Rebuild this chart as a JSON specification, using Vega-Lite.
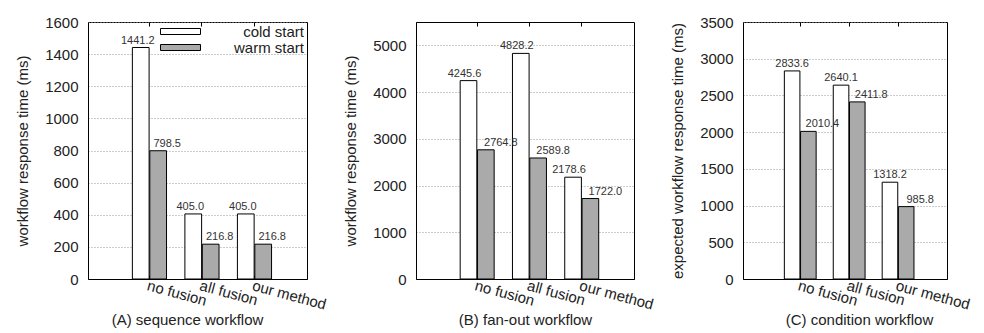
{
  "$schema": "https://vega.github.io/schema/vega-lite/v6.json",
  "padding": {"left": 15, "top": 14, "right": 0, "bottom": 0},
  "bounds": "flush",
  "spacing": 109,
  "config": {
    "font": "Liberation Sans",
    "view": {"stroke": "#000", "strokeWidth": 1},
    "axis": {
      "labelFont": "Liberation Sans", "labelFontSize": 15, "labelColor": "#222",
      "titleFont": "Liberation Sans", "titleFontSize": 15, "titleFontWeight": "normal", "titleColor": "#222",
      "domainColor": "#000", "tickColor": "#000"
    },
    "axisX": {"labelAngle": 15, "labelAlign": "left", "labelBaseline": "top", "labelPadding": 3, "ticks": true, "tickSize": -4, "titleY": 33, "titleBaseline": "top"},
    "axisY": {"grid": true, "gridDash": [1, 2], "gridColor": "#999", "ticks": false, "labelPadding": 10, "titlePadding": 14, "format": "d"}
  },
  "datasets": {
    "d": [
      {"panel": "A", "method": "no fusion", "type": "cold start", "value": 1441.2},
      {"panel": "A", "method": "no fusion", "type": "warm start", "value": 798.5},
      {"panel": "A", "method": "all fusion", "type": "cold start", "value": 405.0},
      {"panel": "A", "method": "all fusion", "type": "warm start", "value": 216.8},
      {"panel": "A", "method": "our method", "type": "cold start", "value": 405.0},
      {"panel": "A", "method": "our method", "type": "warm start", "value": 216.8},
      {"panel": "B", "method": "no fusion", "type": "cold start", "value": 4245.6},
      {"panel": "B", "method": "no fusion", "type": "warm start", "value": 2764.8},
      {"panel": "B", "method": "all fusion", "type": "cold start", "value": 4828.2},
      {"panel": "B", "method": "all fusion", "type": "warm start", "value": 2589.8},
      {"panel": "B", "method": "our method", "type": "cold start", "value": 2178.6},
      {"panel": "B", "method": "our method", "type": "warm start", "value": 1722.0},
      {"panel": "C", "method": "no fusion", "type": "cold start", "value": 2833.6},
      {"panel": "C", "method": "no fusion", "type": "warm start", "value": 2010.4},
      {"panel": "C", "method": "all fusion", "type": "cold start", "value": 2640.1},
      {"panel": "C", "method": "all fusion", "type": "warm start", "value": 2411.8},
      {"panel": "C", "method": "our method", "type": "cold start", "value": 1318.2},
      {"panel": "C", "method": "our method", "type": "warm start", "value": 985.8}
    ]
  },
  "hconcat": [
    {
      "width": 219, "height": 257,
      "data": {"name": "d"},
      "transform": [{"filter": "datum.panel == 'A'"}],
      "encoding": {
        "xOffset": {"field": "type", "type": "nominal", "scale": {"domain": ["cold start", "warm start"], "paddingInner": 0.04, "paddingOuter": 0}},
        "y": {"field": "value", "type": "quantitative", "scale": {"domain": [0, 1600], "nice": false}, "axis": {"title": "workflow response time (ms)", "values": [0, 200, 400, 600, 800, 1000, 1200, 1400, 1600]}}
      },
      "layer": [
        {
          "mark": {"type": "bar", "stroke": "#000", "strokeWidth": 1},
          "encoding": {
            "x": {"field": "method", "type": "nominal", "scale": {"domain": ["no fusion", "all fusion", "our method"], "paddingInner": 0.35, "paddingOuter": 0.76, "align": 0.556}, "axis": {"title": "(A) sequence workflow", "titleX": 99}},
            "fill": {"field": "type", "type": "nominal", "scale": {"domain": ["cold start", "warm start"], "range": ["#ffffff", "#aaaaaa"]},
              "legend": {"orient": "none", "legendX": 85, "legendY": 2, "title": null, "padding": 0, "rowPadding": 0,
                "symbolType": "M-6.67,-1L6.67,-1L6.67,1L-6.67,1Z", "symbolSize": 36, "symbolStrokeColor": "#000", "symbolStrokeWidth": 1, "symbolOpacity": 1,
                "labelFont": "Liberation Sans", "labelFontSize": 15, "labelColor": "#222", "labelAlign": "right", "labelOffset": 116}}
          }
        },
        {
          "transform": [{"filter": "datum.type == 'cold start'"}],
          "mark": {"type": "text", "baseline": "alphabetic", "dy": -4, "dx": -3, "fontSize": 11, "color": "#333"},
          "encoding": {
            "x": {"field": "method", "type": "nominal", "axis": {"orient": "top", "labels": false, "title": null, "domain": false, "ticks": true, "tickSize": -4}},
            "text": {"field": "value", "type": "quantitative", "format": ".1f"}
          }
        },
        {
          "transform": [{"filter": "datum.type == 'warm start'"}],
          "mark": {"type": "text", "baseline": "alphabetic", "dy": -4, "dx": 9, "fontSize": 11, "color": "#333"},
          "encoding": {
            "x": {"field": "method", "type": "nominal", "axis": null},
            "text": {"field": "value", "type": "quantitative", "format": ".1f"}
          }
        }
      ],
      "resolve": {"axis": {"x": "independent"}}
    },
    {
      "width": 218, "height": 257,
      "data": {"name": "d"},
      "transform": [{"filter": "datum.panel == 'B'"}],
      "encoding": {
        "xOffset": {"field": "type", "type": "nominal", "scale": {"domain": ["cold start", "warm start"], "paddingInner": 0.04, "paddingOuter": 0}},
        "y": {"field": "value", "type": "quantitative", "scale": {"domain": [0, 5500], "nice": false}, "axis": {"title": "workflow response time (ms)", "values": [0, 1000, 2000, 3000, 4000, 5000]}}
      },
      "layer": [
        {
          "mark": {"type": "bar", "stroke": "#000", "strokeWidth": 1},
          "encoding": {
            "x": {"field": "method", "type": "nominal", "scale": {"domain": ["no fusion", "all fusion", "our method"], "paddingInner": 0.35, "paddingOuter": 0.76, "align": 0.556}, "axis": {"title": "(B) fan-out workflow", "titleX": 109}},
            "fill": {"field": "type", "type": "nominal", "scale": {"domain": ["cold start", "warm start"], "range": ["#ffffff", "#aaaaaa"]}, "legend": null}
          }
        },
        {
          "transform": [{"filter": "datum.type == 'cold start'"}],
          "mark": {"type": "text", "baseline": "alphabetic", "dy": -4, "dx": -4, "fontSize": 11, "color": "#333"},
          "encoding": {
            "x": {"field": "method", "type": "nominal", "axis": {"orient": "top", "labels": false, "title": null, "domain": false, "ticks": true, "tickSize": -4}},
            "text": {"field": "value", "type": "quantitative", "format": ".1f"}
          }
        },
        {
          "transform": [{"filter": "datum.type == 'warm start'"}],
          "mark": {"type": "text", "baseline": "alphabetic", "dy": -4, "dx": 15, "fontSize": 11, "color": "#333"},
          "encoding": {
            "x": {"field": "method", "type": "nominal", "axis": null},
            "text": {"field": "value", "type": "quantitative", "format": ".1f"}
          }
        }
      ],
      "resolve": {"axis": {"x": "independent"}}
    },
    {
      "width": 204, "height": 257,
      "data": {"name": "d"},
      "transform": [{"filter": "datum.panel == 'C'"}],
      "encoding": {
        "xOffset": {"field": "type", "type": "nominal", "scale": {"domain": ["cold start", "warm start"], "paddingInner": 0.04, "paddingOuter": 0}},
        "y": {"field": "value", "type": "quantitative", "scale": {"domain": [0, 3500], "nice": false}, "axis": {"title": "expected workflow response time (ms)", "values": [0, 500, 1000, 1500, 2000, 2500, 3000, 3500]}}
      },
      "layer": [
        {
          "mark": {"type": "bar", "stroke": "#000", "strokeWidth": 1},
          "encoding": {
            "x": {"field": "method", "type": "nominal", "scale": {"domain": ["no fusion", "all fusion", "our method"], "paddingInner": 0.35, "paddingOuter": 0.76, "align": 0.556}, "axis": {"title": "(C) condition workflow", "titleX": 116}},
            "fill": {"field": "type", "type": "nominal", "scale": {"domain": ["cold start", "warm start"], "range": ["#ffffff", "#aaaaaa"]}, "legend": null}
          }
        },
        {
          "transform": [{"filter": "datum.type == 'cold start'"}],
          "mark": {"type": "text", "baseline": "alphabetic", "dy": -4, "dx": 0, "fontSize": 11, "color": "#333"},
          "encoding": {
            "x": {"field": "method", "type": "nominal", "axis": {"orient": "top", "labels": false, "title": null, "domain": false, "ticks": true, "tickSize": -4}},
            "text": {"field": "value", "type": "quantitative", "format": ".1f"}
          }
        },
        {
          "transform": [{"filter": "datum.type == 'warm start'"}],
          "mark": {"type": "text", "baseline": "alphabetic", "dy": -4, "dx": 14, "fontSize": 11, "color": "#333"},
          "encoding": {
            "x": {"field": "method", "type": "nominal", "axis": null},
            "text": {"field": "value", "type": "quantitative", "format": ".1f"}
          }
        }
      ],
      "resolve": {"axis": {"x": "independent"}}
    }
  ],
  "resolve": {"scale": {"x": "independent", "y": "independent", "fill": "independent", "xOffset": "independent"}, "legend": {"fill": "independent"}}
}
